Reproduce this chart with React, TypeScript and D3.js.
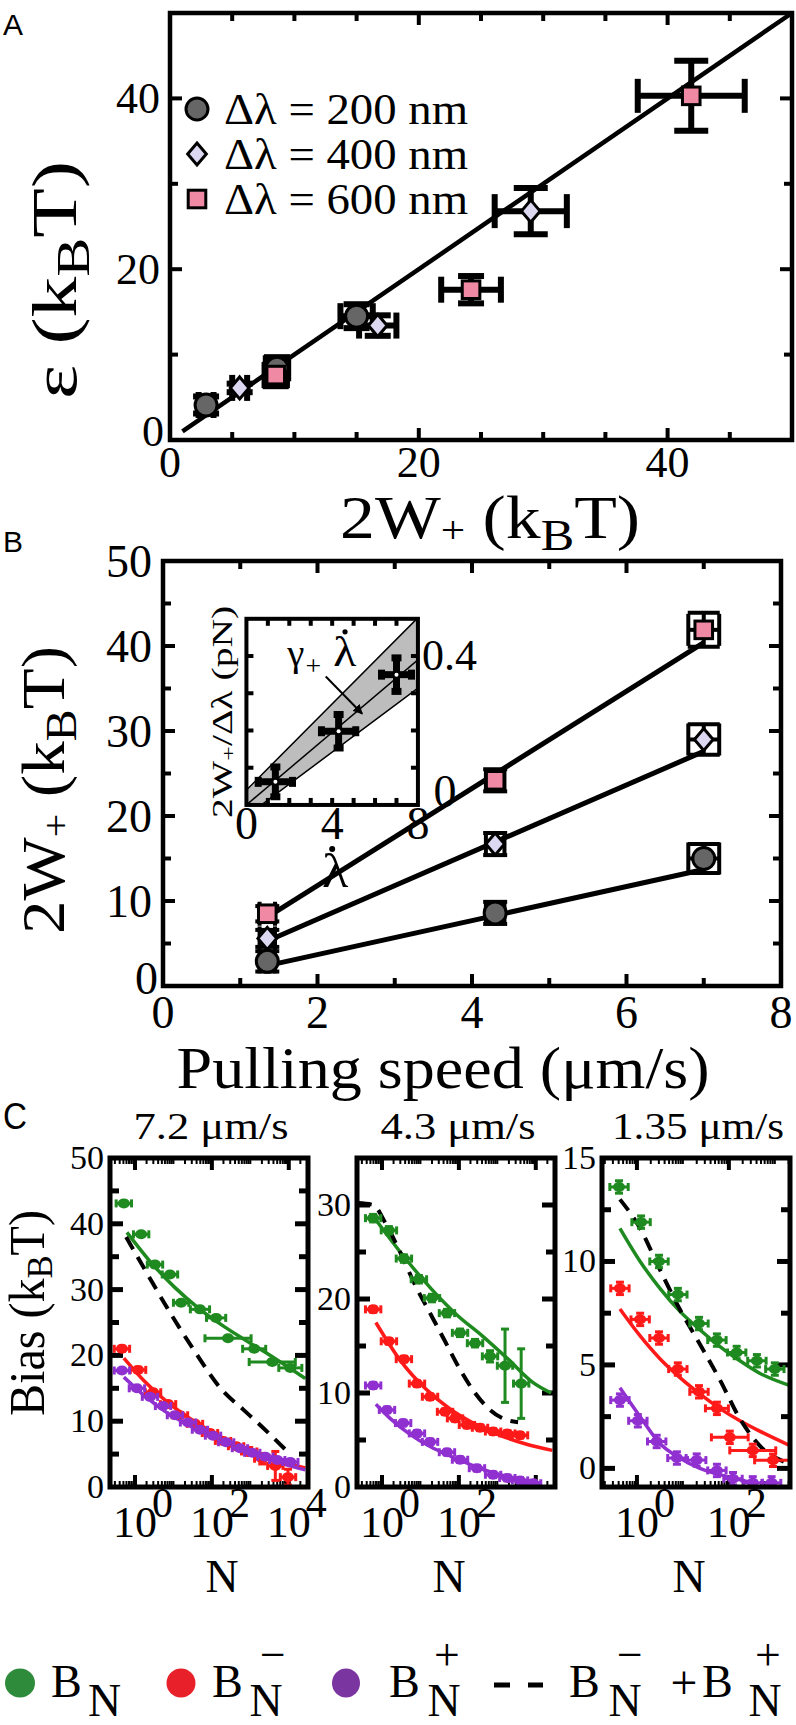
import * as d3 from 'd3';

const SERIF = "'Liberation Serif', 'DejaVu Serif Condensed', 'Times New Roman', serif";
const SANS = "'Liberation Sans', 'DejaVu Sans Condensed', Arial, sans-serif";

const GRAY = '#666666';
const LILAC = '#dcd8f2';
const PINK = '#f08aa4';
const GREEN = '#1f8a1f';
const RED = '#ff1a1a';
const PURPLE = '#9030d0';

// ---- panels A and B: three step sizes, three pulling speeds ----
const stepLabels = ['Δλ = 200 nm', 'Δλ = 400 nm', 'Δλ = 600 nm'];
const speeds = [1.35, 4.3, 7.0];
const speedErr = [0.1, 0.12, 0.2];
const work200 = [2.9, 8.6, 15.0];
const work400 = [5.6, 16.7, 29.0];
const work600 = [8.5, 24.2, 41.9];
const workErrB200 = [1.2, 1.3, 1.7];
const workErrB400 = [1.0, 1.3, 1.8];
const workErrB600 = [0.9, 1.3, 2.0];
const workErrA200 = [0.6, 0.9, 1.3];
const workErrA400 = [0.6, 1.5, 2.9];
const workErrA600 = [0.9, 2.4, 4.3];
const eps200 = [4.1, 8.4, 14.5];
const eps400 = [6.1, 13.4, 26.8];
const eps600 = [7.6, 17.6, 40.3];
const epsErr200 = [1.0, 1.3, 1.4];
const epsErr400 = [0.5, 1.2, 2.7];
const epsErr600 = [1.3, 1.6, 4.1];
const diagonal = [1, 50];
const fitSpeeds = [1.35, 7.0];
const fit200 = [2.4, 13.7];
const fit400 = [5.3, 27.6];
const fit600 = [8.1, 40.4];

// inset: 2W+/Δλ vs loading rate
const insetForce = [0.062, 0.198, 0.35];
const insetForceErr = [0.04, 0.045, 0.045];
const insetRateErr = [0.8, 0.8, 0.7];
const bandRate = [0, 8];
const bandUpper = [0.04, 0.503];
const bandLower = [-0.03, 0.314];
const bandMid = [0.0, 0.39];

// ---- panel C: bias vs log10(N) ----
const c72GreenN = [-0.29, 0.16, 0.52, 0.91, 1.2, 1.69, 2.11, 2.42, 3.1, 3.57, 4.04];
const c72GreenV = [43.1, 38.4, 33.8, 32.3, 28.0, 27.0, 25.7, 22.6, 21.0, 19.0, 18.1];
const c72GreenXErr = [0.2, 0.2, 0.2, 0.2, 0.2, 0.25, 0.25, 0.6, 0.3, 0.6, 0.3];
const c72RedN = [-0.34, 0.08, 0.47, 0.86, 1.17, 1.56, 1.95, 2.29, 2.63, 2.97, 3.31, 3.65, 3.98];
const c72RedV = [21.0, 17.8, 14.4, 12.6, 10.9, 9.6, 8.2, 7.0, 6.2, 5.4, 4.3, 3.2, 1.5];
const c72RedYErr = [0.4, 0.4, 0.4, 0.4, 0.4, 0.4, 0.4, 0.4, 0.4, 0.6, 0.8, 2.2, 1.2];
const c72PurpleN = [-0.34, 0.05, 0.39, 0.73, 1.04, 1.38, 1.69, 2.03, 2.37, 2.73, 3.05, 3.39, 3.7, 4.04];
const c72PurpleV = [17.7, 15.0, 13.7, 12.3, 10.9, 9.8, 8.7, 7.8, 6.8, 5.9, 5.2, 4.6, 4.1, 3.8];
const c72GreenFitN = [-0.21, 0.39, 1.04, 1.69, 2.34, 2.99, 3.65, 4.43];
const c72GreenFit = [38.7, 34.3, 30.3, 27.0, 24.3, 21.9, 19.5, 16.5];
const c72FitN = [-0.29, 0.26, 0.78, 1.3, 1.82, 2.34, 2.86, 3.39, 3.91, 4.43];
const c72RedFit = [19.6, 16.0, 13.2, 10.9, 9.0, 7.3, 5.9, 4.7, 3.7, 2.9];
const c72PurpleFit = [16.7, 13.8, 11.5, 9.7, 8.1, 6.7, 5.5, 4.4, 3.4, 2.6];
const c72SumN = [-0.23, 0.31, 0.86, 1.51, 2.27, 2.81, 3.33, 3.98];
const c72Sum = [38.0, 32.5, 27.0, 21.0, 14.7, 11.8, 9.0, 5.3];

const c43GreenN = [-0.23, 0.18, 0.57, 0.96, 1.3, 1.69, 2.03, 2.42, 2.81, 3.2, 3.62];
const c43GreenV = [28.6, 27.3, 24.3, 22.1, 20.1, 18.5, 16.4, 15.3, 13.9, 12.9, 11.0];
const c43GreenYErr = [0.4, 0.4, 0.4, 0.4, 0.4, 0.4, 0.4, 0.4, 0.6, 3.9, 3.7];
const c43RedN = [-0.23, 0.18, 0.57, 0.91, 1.25, 1.64, 1.9, 2.21, 2.55, 2.89, 3.26, 3.59];
const c43RedV = [18.9, 15.5, 13.6, 11.0, 9.6, 8.0, 7.3, 6.6, 6.3, 5.9, 5.7, 5.5];
const c43PurpleN = [-0.23, 0.13, 0.55, 0.91, 1.25, 1.69, 2.03, 2.47, 2.89, 3.26, 3.59, 3.93];
const c43PurpleV = [10.8, 8.2, 6.8, 5.7, 4.8, 3.7, 2.9, 2.0, 1.3, 0.96, 0.7, 0.4];
const c43GreenFitN = [-0.23, 0.63, 1.3, 1.95, 2.63, 3.28, 3.93, 4.4];
const c43GreenFit = [28.8, 24.2, 21.0, 18.3, 16.0, 13.6, 11.1, 10.0];
const c43RedFitN = [-0.16, 0.47, 1.12, 1.77, 2.42, 3.07, 3.72, 4.43];
const c43RedFit = [17.5, 13.5, 10.5, 8.3, 6.7, 5.5, 4.6, 3.9];
const c43PurpleFitN = [-0.16, 0.21, 0.73, 1.25, 1.77, 2.42, 3.07, 3.72, 4.11];
const c43PurpleFit = [8.8, 7.3, 5.6, 4.3, 3.3, 2.2, 1.3, 0.7, 0.4];
const c43SumN = [-0.63, -0.23, 0.1, 0.47, 0.86, 1.25, 1.64, 2.03, 2.42, 2.81, 3.2, 3.54];
const c43Sum = [30.2, 30.0, 28.0, 25.0, 21.5, 18.5, 15.5, 12.5, 10.0, 8.2, 7.2, 6.9];

const c135GreenN = [-0.39, 0.09, 0.48, 0.89, 1.35, 1.74, 2.17, 2.61, 3.0];
const c135GreenV = [13.6, 11.9, 10.0, 8.4, 7.0, 6.2, 5.6, 5.2, 4.8];
const c135RedN = [-0.37, 0.07, 0.48, 0.89, 1.35, 1.74, 2.02, 2.52, 2.96];
const c135RedV = [8.7, 7.2, 6.3, 4.8, 3.7, 2.9, 1.5, 0.87, 0.39];
const c135RedXErr = [0.2, 0.2, 0.2, 0.2, 0.2, 0.25, 0.4, 0.5, 0.4];
const c135PurpleN = [-0.37, 0.02, 0.43, 0.87, 1.3, 1.74, 2.09, 2.52, 2.93];
const c135PurpleV = [3.3, 2.3, 1.3, 0.5, 0.4, -0.1, -0.5, -0.7, -0.7];
const c135FitN = [-0.37, 0.07, 0.5, 0.93, 1.37, 1.8, 2.24, 2.67, 3.33];
const c135GreenFit = [11.6, 10.0, 8.7, 7.6, 6.7, 5.9, 5.2, 4.6, 4.0];
const c135RedFit = [7.7, 6.4, 5.3, 4.4, 3.6, 2.9, 2.3, 1.8, 1.1];
const c135PurpleFitN = [-0.37, 0.07, 0.5, 0.93, 1.37, 1.96, 2.52];
const c135PurpleFit = [3.9, 2.5, 1.2, 0.5, 0.0, -0.4, -0.7];
const c135SumN = [-0.37, 0.07, 0.5, 0.93, 1.37, 1.8, 2.24, 2.67, 3.22];
const c135Sum = [13.0, 11.6, 9.6, 7.7, 6.0, 4.3, 2.4, 1.1, 0.3];

// Times-like advance widths (em), so the serif text keeps its narrow look
// whichever serif face the browser ends up using.
const EM: Record<string, number> = {
  '.': 0.25, ' ': 0.25, μ: 0.58, m: 0.78, '/': 0.28, s: 0.39, N: 0.72, B: 0.67,
  '−': 0.56, '+': 0.56, '-': 0.33, Δ: 0.61, λ: 0.55, '=': 0.56, n: 0.5, γ: 0.45,
};
const tw = (s: string, size: number) => Array.from(s).reduce((a, c) => a + (EM[c] ?? 0.5), 0) * size;

function T({ x, y, s, size, anchor = 'start' }: { x: number; y: number; s: string; size: number; anchor?: string }) {
  return (
    <text x={x} y={y} fontSize={size} textAnchor={anchor} textLength={tw(s, size)} lengthAdjust="spacingAndGlyphs">
      {s}
    </text>
  );
}

type Shape = 'circle' | 'diamond' | 'square';

function Marker({ shape, cx, cy, s }: { shape: Shape; cx: number; cy: number; s: number }) {
  if (shape === 'circle') return <circle cx={cx} cy={cy} r={s} fill={GRAY} stroke="#000" strokeWidth={3} />;
  if (shape === 'diamond')
    return (
      <path
        d={`M${cx},${cy - s}L${cx + s * 0.85},${cy}L${cx},${cy + s}L${cx - s * 0.85},${cy}Z`}
        fill={LILAC}
        stroke="#000"
        strokeWidth={3}
      />
    );
  return <rect x={cx - s * 0.8} y={cy - s * 0.8} width={s * 1.6} height={s * 1.6} fill={PINK} stroke="#000" strokeWidth={3} />;
}

function ErrBar({ cx, cy, xl, xr, yt, yb, cap, sw, color = '#000' }: any) {
  return (
    <g stroke={color} strokeWidth={sw} fill="none">
      <line x1={xl} x2={xr} y1={cy} y2={cy} />
      <line x1={xl} x2={xl} y1={cy - cap} y2={cy + cap} />
      <line x1={xr} x2={xr} y1={cy - cap} y2={cy + cap} />
      <line x1={cx} x2={cx} y1={yt} y2={yb} />
      <line x1={cx - cap} x2={cx + cap} y1={yt} y2={yt} />
      <line x1={cx - cap} x2={cx + cap} y1={yb} y2={yb} />
    </g>
  );
}

function BoxTicks({ x, y, xt, yt, x0, x1, y0, y1, len, sw }: any) {
  return (
    <g stroke="#000" strokeWidth={sw}>
      {xt.map((t: any, i: number) => (
        <g key={'x' + i}>
          <line x1={x(t.v)} x2={x(t.v)} y1={y1} y2={y1 - len(t)} />
          <line x1={x(t.v)} x2={x(t.v)} y1={y0} y2={y0 + len(t)} />
        </g>
      ))}
      {yt.map((t: any, i: number) => (
        <g key={'y' + i}>
          <line x1={x0} x2={x0 + len(t)} y1={y(t.v)} y2={y(t.v)} />
          <line x1={x1} x2={x1 - len(t)} y1={y(t.v)} y2={y(t.v)} />
        </g>
      ))}
    </g>
  );
}

const WorkLabel = ({ x, y, rotate = 0, size, len }: any) => (
  <text
    transform={`translate(${x},${y}) rotate(${rotate})`}
    fontSize={size}
    textAnchor="middle"
    textLength={len}
    lengthAdjust="spacingAndGlyphs"
  >
    2W<tspan fontSize={size * 0.62} dy={size * 0.08}>+</tspan>
    <tspan dy={-size * 0.08}> (k</tspan>
    <tspan fontSize={size * 0.72} dy={size * 0.2}>B</tspan>
    <tspan dy={-size * 0.2}>T)</tspan>
  </text>
);

const groupsA = [
  { shape: 'circle' as Shape, w: work200, we: workErrA200, e: eps200, ee: epsErr200 },
  { shape: 'diamond' as Shape, w: work400, we: workErrA400, e: eps400, ee: epsErr400 },
  { shape: 'square' as Shape, w: work600, we: workErrA600, e: eps600, ee: epsErr600 },
];

function PanelA() {
  const x0 = 170, x1 = 792, y0 = 13, y1 = 440;
  const x = d3.scaleLinear().domain([0, 50]).range([x0, x1]);
  const y = d3.scaleLinear().domain([0, 50]).range([y1, y0]);
  const xt = d3.range(5, 50, 5).map((v) => ({ v, major: v % 20 === 0 }));
  const yt = d3.range(10, 50, 10).map((v) => ({ v, major: v % 20 === 0 }));
  return (
    <g>
      <text x={3} y={35} fontFamily={SANS} fontSize={30} textLength={20} lengthAdjust="spacingAndGlyphs">A</text>
      <BoxTicks x={x} y={y} xt={xt} yt={yt} x0={x0} x1={x1} y0={y0} y1={y1} sw={4} len={(t: any) => (t.major ? 12 : 8)} />
      <rect x={x0} y={y0} width={x1 - x0} height={y1 - y0} fill="none" stroke="#000" strokeWidth={4.5} />
      <line x1={x(diagonal[0])} y1={y(diagonal[0])} x2={x(diagonal[1])} y2={y(diagonal[1])} stroke="#000" strokeWidth={4.5} />
      {groupsA.map((g, gi) =>
        g.w.map((w, i) => {
          const cx = x(w), cy = y(g.e[i]);
          const cap = i === 2 && gi > 0 ? 17 : 13;
          return (
            <ErrBar key={gi + '-' + i} cx={cx} cy={cy} xl={x(w - g.we[i])} xr={x(w + g.we[i])} yt={y(g.e[i] + g.ee[i])} yb={y(g.e[i] - g.ee[i])} cap={cap} sw={6} />
          );
        })
      )}
      {groupsA.map((g, gi) =>
        g.w.map((w, i) => <Marker key={'m' + gi + i} shape={g.shape} cx={x(w)} cy={y(g.e[i])} s={11} />)
      )}
      {groupsA.map((g, gi) => (
        <g key={'lg' + gi}>
          <Marker shape={g.shape} cx={197} cy={109 + gi * 45} s={11} />
          <text x={224} y={109 + gi * 45 + 15} fontSize={44} textLength={244} lengthAdjust="spacingAndGlyphs">
            {stepLabels[gi]}
          </text>
        </g>
      ))}
      {[0, 20, 40].map((v) => (
        <T key={'xl' + v} x={x(v)} y={477} size={44} anchor="middle" s={String(v)} />
      ))}
      {[0, 20, 40].map((v) => (
        <T key={'yl' + v} x={v === 0 ? 164 : 160} y={y(v) + (v === 0 ? 6 : 15)} size={44} anchor="end" s={String(v)} />
      ))}
      <WorkLabel x={490} y={538} size={62} len={300} />
      <text transform="translate(76,280) rotate(-90)" fontSize={64} textAnchor="middle" textLength={238} lengthAdjust="spacingAndGlyphs">
        ε (k<tspan fontSize={46} dy={13}>B</tspan><tspan dy={-13}>T)</tspan>
      </text>
    </g>
  );
}

const groupsB = [
  { shape: 'circle' as Shape, w: work200, we: workErrB200, fit: fit200 },
  { shape: 'diamond' as Shape, w: work400, we: workErrB400, fit: fit400 },
  { shape: 'square' as Shape, w: work600, we: workErrB600, fit: fit600 },
];

function Inset({ x0, x1, y0, y1 }: { x0: number; x1: number; y0: number; y1: number }) {
  const x = d3.scaleLinear().domain([0, 8]).range([x0, x1]);
  const y = d3.scaleLinear().domain([0, 0.5]).range([y1, y0]);
  const band = [
    [x(bandRate[0]), y(bandUpper[0])],
    [x(bandRate[1]), y(bandUpper[1])],
    [x(bandRate[1]), y(bandLower[1])],
    [x(bandRate[0]), y(bandLower[0])],
  ];
  const xt = d3.range(1, 8, 1).map((v) => ({ v }));
  const yt = d3.range(0.1, 0.5, 0.1).map((v) => ({ v }));
  return (
    <g>
      <defs>
        <clipPath id="insetClip">
          <rect x={x0} y={y0} width={x1 - x0} height={y1 - y0} />
        </clipPath>
        <marker id="arrowHead" viewBox="0 0 10 10" refX={9} refY={5} markerWidth={5} markerHeight={5} orient="auto">
          <path d="M0,0L10,5L0,10Z" fill="#000" />
        </marker>
      </defs>
      <rect x={x0} y={y0} width={x1 - x0} height={y1 - y0} fill="#fff" />
      <g clipPath="url(#insetClip)">
        <polygon points={band.map((p) => p.join(',')).join(' ')} fill="#bdbdbd" stroke="#000" strokeWidth={1.5} />
        <line x1={x(bandRate[0])} y1={y(bandMid[0])} x2={x(bandRate[1])} y2={y(bandMid[1])} stroke="#000" strokeWidth={1.5} />
      </g>
      <BoxTicks x={x} y={y} xt={xt} yt={yt} x0={x0} x1={x1} y0={y0} y1={y1} sw={4} len={() => 7} />
      <rect x={x0} y={y0} width={x1 - x0} height={y1 - y0} fill="none" stroke="#000" strokeWidth={4} />
      {speeds.map((s, i) => (
        <g key={i}>
          <ErrBar cx={x(s)} cy={y(insetForce[i])} xl={x(s - insetRateErr[i])} xr={x(s + insetRateErr[i])} yt={y(insetForce[i] + insetForceErr[i])} yb={y(insetForce[i] - insetForceErr[i])} cap={5} sw={7} />
          <circle cx={x(s)} cy={y(insetForce[i])} r={2} fill="#fff" />
        </g>
      ))}
      <line x1={x(3.7)} y1={y(0.345)} x2={x(5.4)} y2={y(0.245)} stroke="#000" strokeWidth={2} markerEnd="url(#arrowHead)" />
      <T x={x(1.9)} y={y(0.373)} size={38} s="γ" />
      <T x={x(2.75)} y={y(0.35)} size={28} s="+" />
      <T x={x(4.05)} y={y(0.373)} size={42} s="λ" />
      <circle cx={x(4.6)} cy={y(0.465)} r={2.6} fill="#000" />
      {[0, 4, 8].map((v) => (
        <T key={v} x={x(v)} y={y1 + 34} size={46} anchor="middle" s={String(v)} />
      ))}
      <T x={x1 + 4} y={y(0.4) + 14} size={44} s="0.4" />
      <T x={x1 + 27} y={y1 + 2} size={46} anchor="middle" s="0" />
      <T x={x(4) + 3} y={y1 + 82} size={48} anchor="middle" s="λ" />
      <circle cx={x(4)} cy={y1 + 44} r={3} fill="#000" />
      <text transform={`translate(${x0 - 14},${(y0 + y1) / 2}) rotate(-90)`} fontSize={29} textAnchor="middle" textLength={y1 - y0 + 26} lengthAdjust="spacingAndGlyphs">
        2W<tspan fontSize={19} dy={3}>+</tspan><tspan dy={-3}>/Δλ (pN)</tspan>
      </text>
    </g>
  );
}

function PanelB() {
  const x0 = 163, x1 = 781, y0 = 561, y1 = 986;
  const x = d3.scaleLinear().domain([0, 8]).range([x0, x1]);
  const y = d3.scaleLinear().domain([0, 50]).range([y1, y0]);
  const xt = d3.range(1, 8, 1).map((v) => ({ v, major: v % 2 === 0 }));
  const yt = d3.range(5, 50, 5).map((v) => ({ v, major: v % 10 === 0 }));
  return (
    <g>
      <text x={3} y={552} fontFamily={SANS} fontSize={30} textLength={20} lengthAdjust="spacingAndGlyphs">B</text>
      <BoxTicks x={x} y={y} xt={xt} yt={yt} x0={x0} x1={x1} y0={y0} y1={y1} sw={4} len={(t: any) => (t.major ? 12 : 8)} />
      <rect x={x0} y={y0} width={x1 - x0} height={y1 - y0} fill="none" stroke="#000" strokeWidth={4.5} />
      <Inset x0={x(1.08)} x1={x(3.3)} y0={y(43.2)} y1={y(21.3)} />
      {groupsB.map((g, gi) => (
        <line key={'f' + gi} x1={x(fitSpeeds[0])} y1={y(g.fit[0])} x2={x(fitSpeeds[1])} y2={y(g.fit[1])} stroke="#000" strokeWidth={5} />
      ))}
      {groupsB.map((g, gi) =>
        g.w.map((w, i) => (
          <ErrBar key={gi + '-' + i} cx={x(speeds[i])} cy={y(w)} xl={x(speeds[i] - speedErr[i])} xr={x(speeds[i] + speedErr[i])} yt={y(w + g.we[i])} yb={y(w - g.we[i])} cap={i === 2 ? 16 : 12} sw={4} />
        ))
      )}
      {groupsB.map((g, gi) => g.w.map((w, i) => <Marker key={'m' + gi + i} shape={g.shape} cx={x(speeds[i])} cy={y(w)} s={11} />))}
      {d3.range(0, 9, 2).map((v) => (
        <T key={'xl' + v} x={x(v)} y={1028} size={46} anchor="middle" s={String(v)} />
      ))}
      {d3.range(0, 51, 10).map((v) => (
        <T key={'yl' + v} x={v === 0 ? 158 : 152} y={y(v) + (v === 0 ? 8 : 16)} size={46} anchor="end" s={String(v)} />
      ))}
      <WorkLabel x={64} y={790} rotate={-90} size={62} len={288} />
      <text x={443} y={1088} fontSize={60} textAnchor="middle" textLength={533} lengthAdjust="spacingAndGlyphs">
        Pulling speed (μm/s)
      </text>
    </g>
  );
}

const C_Y0 = 1158;
const C_Y1 = 1487;

const cPlots = [
  {
    id: 'c72', title: '7.2 μm/s', titleLen: 155, x0: 110, x1: 308, yDom: [0, 50], yStep: 5, yLabels: [0, 10, 20, 30, 40, 50],
    nDom: [-0.65, 4.5], nLabels: [0, 2, 4], nText: 222,
    points: [
      { n: c72GreenN, v: c72GreenV, xe: c72GreenXErr, color: GREEN },
      { n: c72RedN, v: c72RedV, ye: c72RedYErr, color: RED },
      { n: c72PurpleN, v: c72PurpleV, color: PURPLE },
    ],
    fits: [
      { n: c72GreenFitN, v: c72GreenFit, color: GREEN },
      { n: c72FitN, v: c72RedFit, color: RED },
      { n: c72FitN, v: c72PurpleFit, color: PURPLE },
    ],
    sum: { n: c72SumN, v: c72Sum },
  },
  {
    id: 'c43', title: '4.3 μm/s', titleLen: 155, x0: 357, x1: 555, yDom: [0, 35], yStep: 5, yLabels: [0, 10, 20, 30],
    nDom: [-0.65, 4.5], nLabels: [0, 2], nText: 449,
    points: [
      { n: c43GreenN, v: c43GreenV, ye: c43GreenYErr, color: GREEN },
      { n: c43RedN, v: c43RedV, color: RED },
      { n: c43PurpleN, v: c43PurpleV, color: PURPLE },
    ],
    fits: [
      { n: c43GreenFitN, v: c43GreenFit, color: GREEN },
      { n: c43RedFitN, v: c43RedFit, color: RED },
      { n: c43PurpleFitN, v: c43PurpleFit, color: PURPLE },
    ],
    sum: { n: c43SumN, v: c43Sum },
  },
  {
    id: 'c135', title: '1.35 μm/s', titleLen: 172, x0: 602, x1: 790, yDom: [-0.9, 15], yStep: 2.5, yLabels: [0, 5, 10, 15],
    nDom: [-0.76, 3.33], nLabels: [0, 2], nText: 689,
    points: [
      { n: c135GreenN, v: c135GreenV, color: GREEN },
      { n: c135RedN, v: c135RedV, xe: c135RedXErr, color: RED },
      { n: c135PurpleN, v: c135PurpleV, color: PURPLE },
    ],
    fits: [
      { n: c135FitN, v: c135GreenFit, color: GREEN },
      { n: c135FitN, v: c135RedFit, color: RED },
      { n: c135PurpleFitN, v: c135PurpleFit, color: PURPLE },
    ],
    sum: { n: c135SumN, v: c135Sum },
  },
];

function PlotC({ cfg }: { cfg: any }) {
  const { x0, x1 } = cfg;
  const x = d3.scaleLinear().domain(cfg.nDom).range([x0, x1]);
  const y = d3.scaleLinear().domain(cfg.yDom).range([C_Y1, C_Y0]);
  const path = (n: number[], v: number[]) =>
    d3.line<number>().x((_, i) => x(n[i])).y((d) => y(d)).curve(d3.curveMonotoneX)(v) || '';
  const major: number[] = [];
  const minor: number[] = [];
  for (let d = Math.floor(cfg.nDom[0]); d <= Math.ceil(cfg.nDom[1]); d++) {
    if (d >= cfg.nDom[0] && d <= cfg.nDom[1]) (d % 2 === 0 ? major : minor).push(d);
    for (let k = 2; k < 10; k++) {
      const t = d + Math.log10(k);
      if (t > cfg.nDom[0] && t < cfg.nDom[1]) minor.push(t);
    }
  }
  const yTicks = d3.range(Math.ceil(cfg.yDom[0] / cfg.yStep) * cfg.yStep, cfg.yDom[1], cfg.yStep).filter((v) => v > cfg.yDom[0]);
  return (
    <g>
      <defs>
        <clipPath id={'clip' + cfg.id}>
          <rect x={x0} y={C_Y0} width={x1 - x0} height={C_Y1 - C_Y0} />
        </clipPath>
      </defs>
      <g stroke="#000">
        {major.map((t) => (
          <g key={'M' + t} strokeWidth={4}>
            <line x1={x(t)} x2={x(t)} y1={C_Y1} y2={C_Y1 - 12} />
            <line x1={x(t)} x2={x(t)} y1={C_Y0} y2={C_Y0 + 12} />
          </g>
        ))}
        {minor.map((t, i) => (
          <g key={'m' + i} strokeWidth={2}>
            <line x1={x(t)} x2={x(t)} y1={C_Y1} y2={C_Y1 - 6} />
            <line x1={x(t)} x2={x(t)} y1={C_Y0} y2={C_Y0 + 6} />
          </g>
        ))}
        {yTicks.map((v) => {
          const len = cfg.yLabels.includes(v) ? 13 : 9;
          return (
            <g key={'y' + v} strokeWidth={5}>
              <line x1={x0} x2={x0 + len} y1={y(v)} y2={y(v)} />
              <line x1={x1} x2={x1 - len} y1={y(v)} y2={y(v)} />
            </g>
          );
        })}
      </g>
      <g clipPath={`url(#clip${cfg.id})`}>
        {cfg.fits.map((f: any, i: number) => (
          <path key={'f' + i} d={path(f.n, f.v)} fill="none" stroke={f.color} strokeWidth={3.5} />
        ))}
        <path d={path(cfg.sum.n, cfg.sum.v)} fill="none" stroke="#000" strokeWidth={4} strokeDasharray="14 9" />
        {cfg.points.map((s: any, si: number) =>
          s.n.map((n: number, i: number) => {
            const xe = s.xe ? s.xe[i] : 0.2;
            const ye = s.ye ? s.ye[i] : 0.3;
            const cx = x(n), cy = y(s.v[i]);
            return (
              <g key={si + '-' + i}>
                <ErrBar cx={cx} cy={cy} xl={x(n - xe)} xr={x(n + xe)} yt={y(s.v[i] + ye)} yb={y(s.v[i] - ye)} cap={4} sw={3} color={s.color} />
                <ellipse cx={cx} cy={cy} rx={6} ry={5} fill={s.color} />
              </g>
            );
          })
        )}
      </g>
      <rect x={x0} y={C_Y0} width={x1 - x0} height={C_Y1 - C_Y0} fill="none" stroke="#000" strokeWidth={5} />
      {cfg.yLabels.map((v: number) => (
        <T key={'yl' + v} x={x0 - 6} y={y(v) + 11} size={34} anchor="end" s={String(v)} />
      ))}
      {cfg.nLabels.map((d: number) => (
        <g key={'nl' + d}>
          <T x={x(d)} y={1537} size={44} anchor="middle" s="10" />
          <T x={x(d) + 17} y={1517} size={42} s={String(d)} />
        </g>
      ))}
      <T x={cfg.nText} y={1592} size={46} anchor="middle" s="N" />
      <text x={(x0 + x1) / 2 + 2} y={1139} fontSize={38} textAnchor="middle" textLength={cfg.titleLen} lengthAdjust="spacingAndGlyphs">
        {cfg.title}
      </text>
    </g>
  );
}

function LegendC() {
  const base = 1697;
  const sub = 1716;
  return (
    <g>
      <ellipse cx={20} cy={1683} rx={15} ry={14.5} fill="#2e8b3c" />
      <T x={51} y={base} size={46} s="B" />
      <T x={88} y={sub} size={46} s="N" />

      <ellipse cx={181} cy={1683} rx={14.5} ry={14.5} fill="#e8202a" />
      <T x={212} y={base} size={46} s="B" />
      <T x={266} y={sub} size={46} anchor="middle" s="N" />
      <T x={273} y={1670} size={46} anchor="middle" s="−" />

      <ellipse cx={346} cy={1683} rx={14} ry={14.5} fill="#7b35a0" />
      <T x={389} y={base} size={46} s="B" />
      <T x={444} y={sub} size={46} anchor="middle" s="N" />
      <T x={447} y={1670} size={46} anchor="middle" s="+" />

      <g stroke="#000" strokeWidth={5}>
        <line x1={494} x2={510} y1={1685} y2={1685} />
        <line x1={528} x2={543} y1={1685} y2={1685} />
      </g>

      <T x={569} y={base} size={46} s="B" />
      <T x={625} y={sub} size={46} anchor="middle" s="N" />
      <T x={630} y={1670} size={46} anchor="middle" s="−" />
      <T x={684} y={1699} size={48} anchor="middle" s="+" />
      <T x={702} y={base} size={46} s="B" />
      <T x={765} y={sub} size={46} anchor="middle" s="N" />
      <T x={768} y={1670} size={46} anchor="middle" s="+" />
    </g>
  );
}

export default function App() {
  return (
    <svg
      width={796}
      height={1725}
      viewBox="0 0 796 1725"
      style={{ position: 'absolute', left: 0, top: 0, background: '#fff' }}
      fontFamily={SERIF}
    >
      <rect width={796} height={1725} fill="#fff" />
      <PanelA />
      <PanelB />
      <text x={3} y={1129} fontFamily={SANS} fontSize={36} textLength={24} lengthAdjust="spacingAndGlyphs">C</text>
      {cPlots.map((cfg) => (
        <PlotC key={cfg.id} cfg={cfg} />
      ))}
      <text transform="translate(44,1313) rotate(-90)" fontSize={50} textAnchor="middle" textLength={206} lengthAdjust="spacingAndGlyphs">
        Bias (k<tspan fontSize={36} dy={8}>B</tspan><tspan dy={-8}>T)</tspan>
      </text>
      <LegendC />
    </svg>
  );
}
